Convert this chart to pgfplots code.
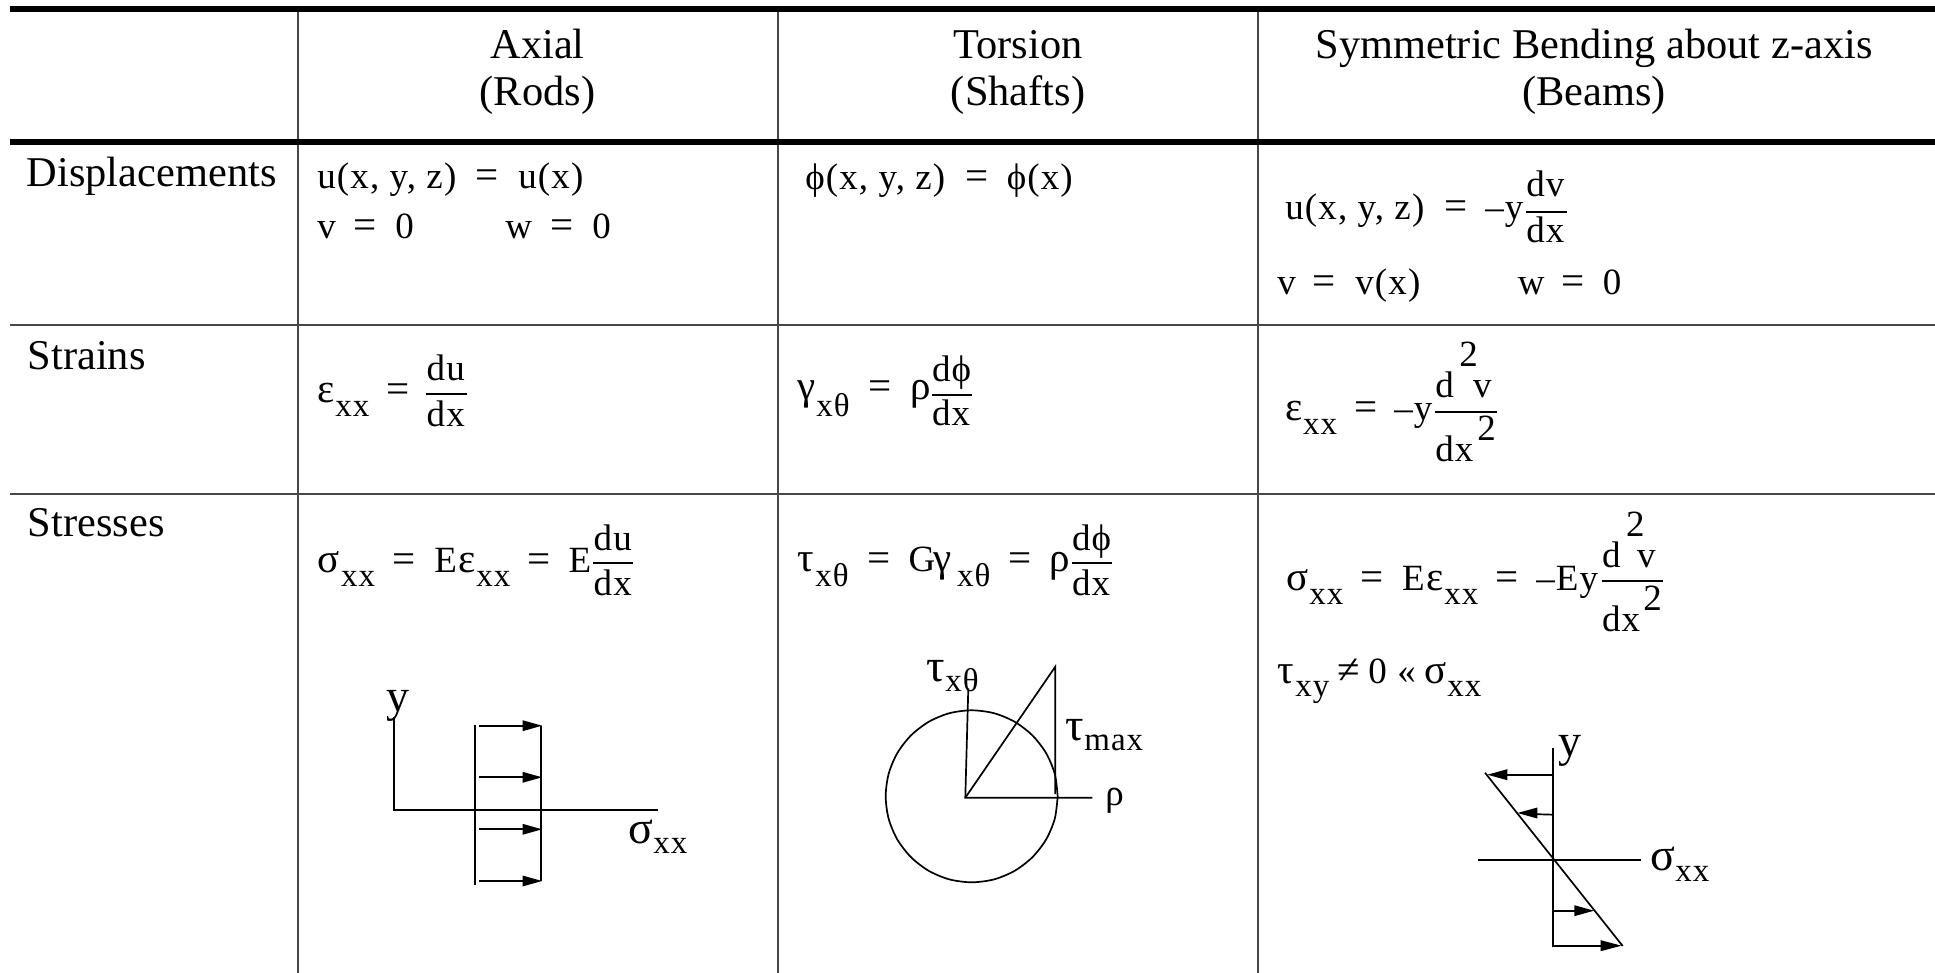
\documentclass[border=0pt]{standalone}
\usepackage{fontspec}
\setmainfont{Liberation Serif}
\newfontfamily\eqf[LetterSpace=3]{Liberation Serif}
\usepackage{pgfplots}
\pgfplotsset{compat=1.18}
% one axis unit is one pixel of the reference, 0.5pt each
\newcommand{\Lb}{\fontsize{21.2}{24}\selectfont}
\newcommand{\Eq}{\eqf\fontsize{18.5}{22}\selectfont}
\newcommand{\Gk}{\fontsize{20.5}{22}\selectfont}
\newcommand{\Sb}{\eqf\fontsize{16.5}{20}\selectfont}
\newcommand{\Dg}{\fontsize{23}{24}\selectfont}
\newcommand{\Tl}[3]{\node[anchor=base west,inner sep=0pt,font=\Lb] at (axis cs:#1,#2) {#3};}
\newcommand{\Tc}[3]{\node[anchor=base,inner sep=0pt,font=\Lb] at (axis cs:#1,#2) {#3};}
\newcommand{\Te}[3]{\node[anchor=base west,inner sep=0pt,font=\Eq] at (axis cs:#1,#2) {#3};}
\newcommand{\Tg}[3]{\node[anchor=base west,inner sep=0pt,font=\Gk] at (axis cs:#1,#2) {#3};}
\newcommand{\Ts}[3]{\node[anchor=base west,inner sep=0pt,font=\Sb] at (axis cs:#1,#2) {#3};}
\newcommand{\Td}[3]{\node[anchor=base west,inner sep=0pt,font=\Dg] at (axis cs:#1,#2) {#3};}
\newcommand{\Hv}[1]{\addplot[black,line width=3pt] coordinates {#1};}
\newcommand{\Gr}[1]{\addplot[black!72,line width=1pt] coordinates {#1};}
\newcommand{\Ln}[1]{\addplot[black,line width=0.85pt] coordinates {#1};}
\newcommand{\Hd}[1]{\addplot[black,fill=black,draw=none] coordinates {#1} -- cycle;}
\begin{document}
\begin{tikzpicture}
\begin{axis}[
    hide axis, scale only axis, width=967.5pt, height=486.5pt,
    xmin=0, xmax=1935, ymin=0, ymax=973, y dir=reverse,
    no markers,
  ]
  % keeps the whole frame in the page
  \addplot[white,line width=0.1pt] coordinates {(0,0) (1935,0) (1935,973) (0,973) (0,0)};
  % table rules
  \Gr{(297.5,9) (297.5,973)}
  \Gr{(777.5,9) (777.5,973)}
  \Gr{(1257.5,9) (1257.5,973)}
  \Hv{(10,9) (1935,9)}
  \Hv{(10,142) (1935,142)}
  \Gr{(10,325) (1935,325)}
  \Gr{(10,494) (1935,494)}

  % header
  \Tc{537.5}{59}{Axial}
  \Tc{537.5}{106}{(Rods)}
  \Tc{1018}{59}{Torsion}
  \Tc{1018}{106}{(Shafts)}
  \Tc{1594}{59}{Symmetric Bending about z-axis}
  \Tc{1594}{106}{(Beams)}

  % row labels
  \Tl{26.5}{187}{Displacements}
  \Tl{27.5}{370}{Strains}
  \Tl{27.5}{537}{Stresses}

  % displacements
  \Te{317}{189}{u(x, y, z)}
  \Tg{475}{189}{=}
  \Te{518}{189}{u(x)}
  \Te{317}{239}{v}
  \Tg{353}{239}{=}
  \Te{395}{239}{0}
  \Te{505}{239}{w}
  \Tg{550}{239}{=}
  \Te{592}{239}{0}

  \Te{805}{190}{ϕ(x, y, z)}
  \Tg{965}{190}{=}
  \Te{1006.5}{190}{ϕ(x)}

  \Te{1285}{220}{u(x, y, z)}
  \Tg{1444.5}{220}{=}
  \Te{1485}{220}{–y}
  \Te{1526}{197}{dv}
  \Ln{(1526,211.7) (1566.7,211.7)}
  \Te{1526}{243}{dx}
  \Te{1277}{295}{v}
  \Tg{1312.5}{295}{=}
  \Te{1355}{295}{v(x)}
  \Te{1517.5}{295}{w}
  \Tg{1561}{295}{=}
  \Te{1602.5}{295}{0}

  % strains
  \Tg{317}{403}{ε}
  \Ts{335}{416}{xx}
  \Tg{386}{403}{=}
  \Te{426.3}{380.7}{du}
  \Ln{(426.3,394.3) (466.5,394.3)}
  \Te{426.3}{426.7}{dx}

  \Tg{796.7}{400}{γ}
  \Ts{816}{416}{xθ}
  \Tg{868.5}{400}{=}
  \Tg{910}{400}{ρ}
  \Te{931.7}{381.7}{dϕ}
  \Ln{(931.7,395) (972.3,395)}
  \Te{931.7}{426}{dx}

  \Tg{1285}{420.7}{ε}
  \Ts{1302.7}{435}{xx}
  \Tg{1354.5}{420.7}{=}
  \Te{1394}{420.7}{–y}
  \Te{1435}{398}{d}
  \Te{1472.7}{398}{v}
  \Te{1459}{367}{2}
  \Ln{(1435,412.3) (1497.3,412.3)}
  \Te{1435}{462}{dx}
  \Te{1477}{440.7}{2}

  % stresses, axial
  \Tg{317.3}{572}{σ}
  \Ts{340.7}{586}{xx}
  \Tg{391.8}{572}{=}
  \Te{434}{572}{E}
  \Tg{458}{572}{ε}
  \Ts{476}{586}{xx}
  \Tg{526.8}{572}{=}
  \Te{568.3}{572}{E}
  \Te{593.3}{550}{du}
  \Ln{(593.3,563.3) (633.3,563.3)}
  \Te{593.3}{596}{dx}

  \Ln{(393.7,717) (393.7,809.7) (658,809.7)}
  \Ln{(474.7,725) (474.7,885)}
  \Ln{(540.7,725.7) (540.7,881)}
  \Ln{(479,725.7) (530,725.7)}
  \Ln{(479,777.3) (530,777.3)}
  \Ln{(479,829.3) (530,829.3)}
  \Ln{(479,881) (530,881)}
  \Hd{(522.5,720.2) (542,725.7) (522.5,731.2)}
  \Hd{(522.5,771.8) (542,777.3) (522.5,782.8)}
  \Hd{(522.5,823.8) (542,829.3) (522.5,834.8)}
  \Hd{(522.5,875.5) (542,881) (522.5,886.5)}
  \Td{386}{711}{y}
  \Td{628}{843}{σ}
  \Ts{653}{853}{xx}

  % stresses, torsion
  \Tg{796.7}{571.7}{τ}
  \Ts{815}{586}{xθ}
  \Tg{866.8}{571.7}{=}
  \Te{908.3}{571.7}{G}
  \Tg{933}{571.7}{γ}
  \Ts{956.7}{586}{xθ}
  \Tg{1008.5}{571.7}{=}
  \Tg{1049.3}{571.7}{ρ}
  \Te{1071.7}{550}{dϕ}
  \Ln{(1071.7,562.7) (1112.3,562.7)}
  \Te{1071.7}{595}{dx}

  \addplot[black,line width=0.85pt,smooth] coordinates {
    (1057.7,796.3) (1054.8,774.0) (1046.2,753.3) (1032.5,735.5)
    (1014.7,721.8) (994.0,713.2) (971.7,710.3) (949.4,713.2)
    (928.7,721.8) (910.9,735.5) (897.2,753.3) (888.6,774.0)
    (885.7,796.3) (888.6,818.6) (897.2,839.3) (910.9,857.1)
    (928.7,870.8) (949.4,879.4) (971.7,882.3) (994.0,879.4)
    (1014.7,870.8) (1032.5,857.1) (1046.2,839.3) (1054.8,818.6)
    (1057.7,796.3)};
  \Ln{(968.3,688.3) (965.3,797.7) (1092.3,797.7)}
  \Ln{(965.3,797.7) (1055.3,666.7) (1055.3,794)}
  \Td{926.5}{681.7}{τ}
  \Ts{945}{691.7}{xθ}
  \Td{1065}{740}{τ}
  \Ts{1084}{750}{max}
  \Te{1105}{805}{ρ}

  % stresses, bending
  \Tg{1285.7}{590}{σ}
  \Ts{1309}{604}{xx}
  \Tg{1360.2}{590}{=}
  \Te{1401.7}{590}{E}
  \Tg{1426}{590}{ε}
  \Ts{1444}{604}{xx}
  \Tg{1495.2}{590}{=}
  \Te{1536}{590}{–Ey}
  \Te{1601.7}{567.7}{d}
  \Te{1636.7}{567.7}{v}
  \Te{1625.7}{536.7}{2}
  \Ln{(1601.7,581) (1663.3,581)}
  \Te{1601.7}{631.7}{dx}
  \Te{1643}{610}{2}

  \Tg{1276.7}{683}{τ}
  \Ts{1295}{696.7}{xy}
  \Tg{1337}{683}{≠}
  \Te{1368}{683}{0}
  \Te{1397}{683}{«}
  \Tg{1424}{683}{σ}
  \Ts{1447}{696.7}{xx}

  \Ln{(1553.3,748) (1553.3,946.7)}
  \Ln{(1478.3,860.3) (1641,860.3)}
  \Ln{(1485,772.7) (1622.7,946)}
  \Ln{(1553,774.7) (1500,774.7)}
  \Ln{(1553,814.7) (1530,814)}
  \Ln{(1553,910.7) (1580,910.7)}
  \Ln{(1553,945.7) (1605,945.7)}
  \Hd{(1507.3,769.2) (1487.5,774.7) (1507.3,780.2)}
  \Hd{(1537.3,807.5) (1517.5,813) (1537.3,818.5)}
  \Hd{(1574.3,905.2) (1594,910.7) (1574.3,916.2)}
  \Hd{(1600.7,940.2) (1621.5,945.7) (1600.7,951.2)}
  \Td{1557.7}{756}{y}
  \Td{1650}{870}{σ}
  \Ts{1675}{881.7}{xx}
\end{axis}
\end{tikzpicture}
\end{document}
